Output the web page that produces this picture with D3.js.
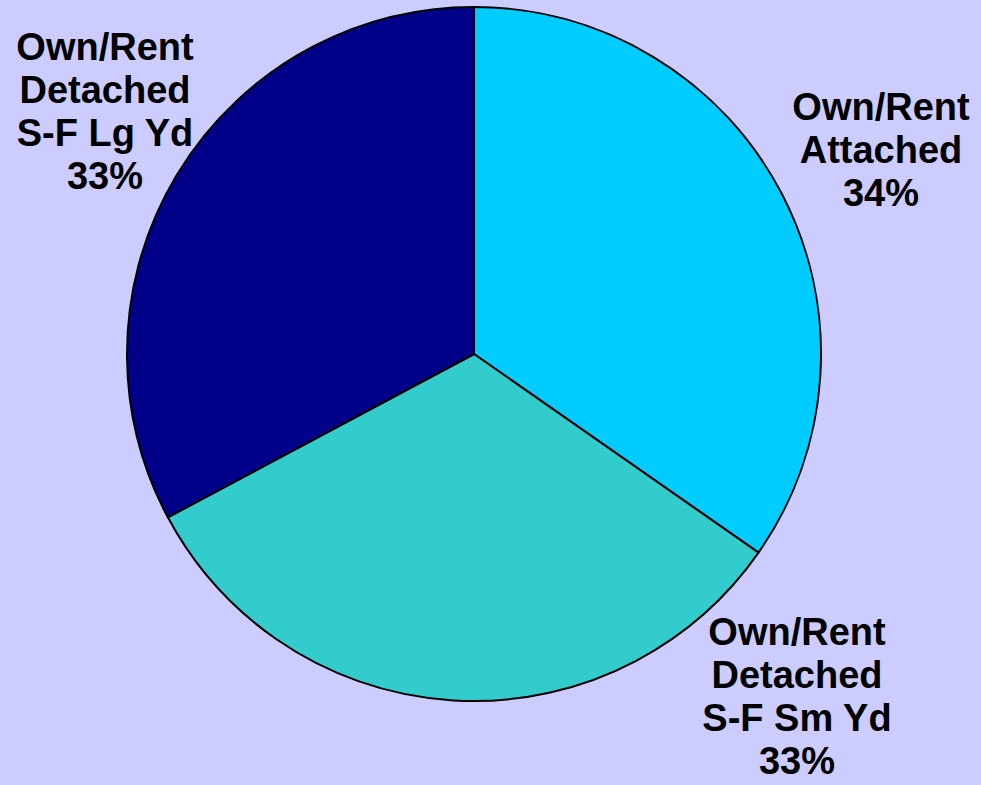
<!DOCTYPE html>
<html>
<head>
<meta charset="utf-8">
<script src="https://cdn.jsdelivr.net/npm/d3@7"></script>
<style>
  html, body { margin: 0; padding: 0; background: #ccccff; }
  svg { display: block; }
</style>
</head>
<body>
<svg id="chart" width="981" height="785"></svg>
<script>
// slice shares (clockwise from 12 o'clock)
const categories = ["Attached", "Sm Yd", "Lg Yd"];
const shares = [34.7, 32.5, 32.8];
const labelLines = [
  ["Own/Rent", "Attached", "34%"],
  ["Own/Rent", "Detached", "S-F Sm Yd", "33%"],
  ["Own/Rent", "Detached", "S-F Lg Yd", "33%"]
];
const colors = ["#00ccff", "#33cccc", "#000088"];

var svg = d3.select("#chart"),
  width = +svg.attr("width"),
  height = +svg.attr("height");

const cx = 474, cy = 354, radius = 347;

const pie = d3.pie().sort(null).value((d) => d.value);
const arc = d3.arc().innerRadius(0).outerRadius(radius);

const data = categories.map((c, i) => ({ name: c, value: shares[i], lines: labelLines[i], color: colors[i] }));
const arcs = pie(data);

const g = svg.append("g").attr("transform", `translate(${cx},${cy})`);

g.selectAll("path")
  .data(arcs)
  .enter()
  .append("path")
  .attr("d", arc)
  .attr("fill", (d) => d.data.color)
  .attr("stroke", "#000")
  .attr("stroke-width", 2)
  .attr("stroke-linejoin", "round");

// label anchors (centre x, first baseline) for each slice
const labelPos = [
  { x: 881, y: 120 },
  { x: 797, y: 645 },
  { x: 105, y: 60 }
];
const lineH = 43;

const label = svg
  .append("g")
  .attr("class", "labels")
  .selectAll("text")
  .data(arcs)
  .enter()
  .append("text")
  .attr("x", (d, i) => labelPos[i].x)
  .attr("y", (d, i) => labelPos[i].y)
  .style("text-anchor", "middle")
  .style("font-family", "'Liberation Sans', Arial, sans-serif")
  .style("font-weight", "bold")
  .style("font-size", "38px")
  .attr("fill", "#000");

label
  .selectAll("tspan")
  .data((d, i) => d.data.lines.map((t) => ({ t, x: labelPos[i].x })))
  .enter()
  .append("tspan")
  .attr("x", (d) => d.x)
  .attr("dy", (d, j) => (j === 0 ? 0 : lineH))
  .text((d) => d.t);
</script>
</body>
</html>
